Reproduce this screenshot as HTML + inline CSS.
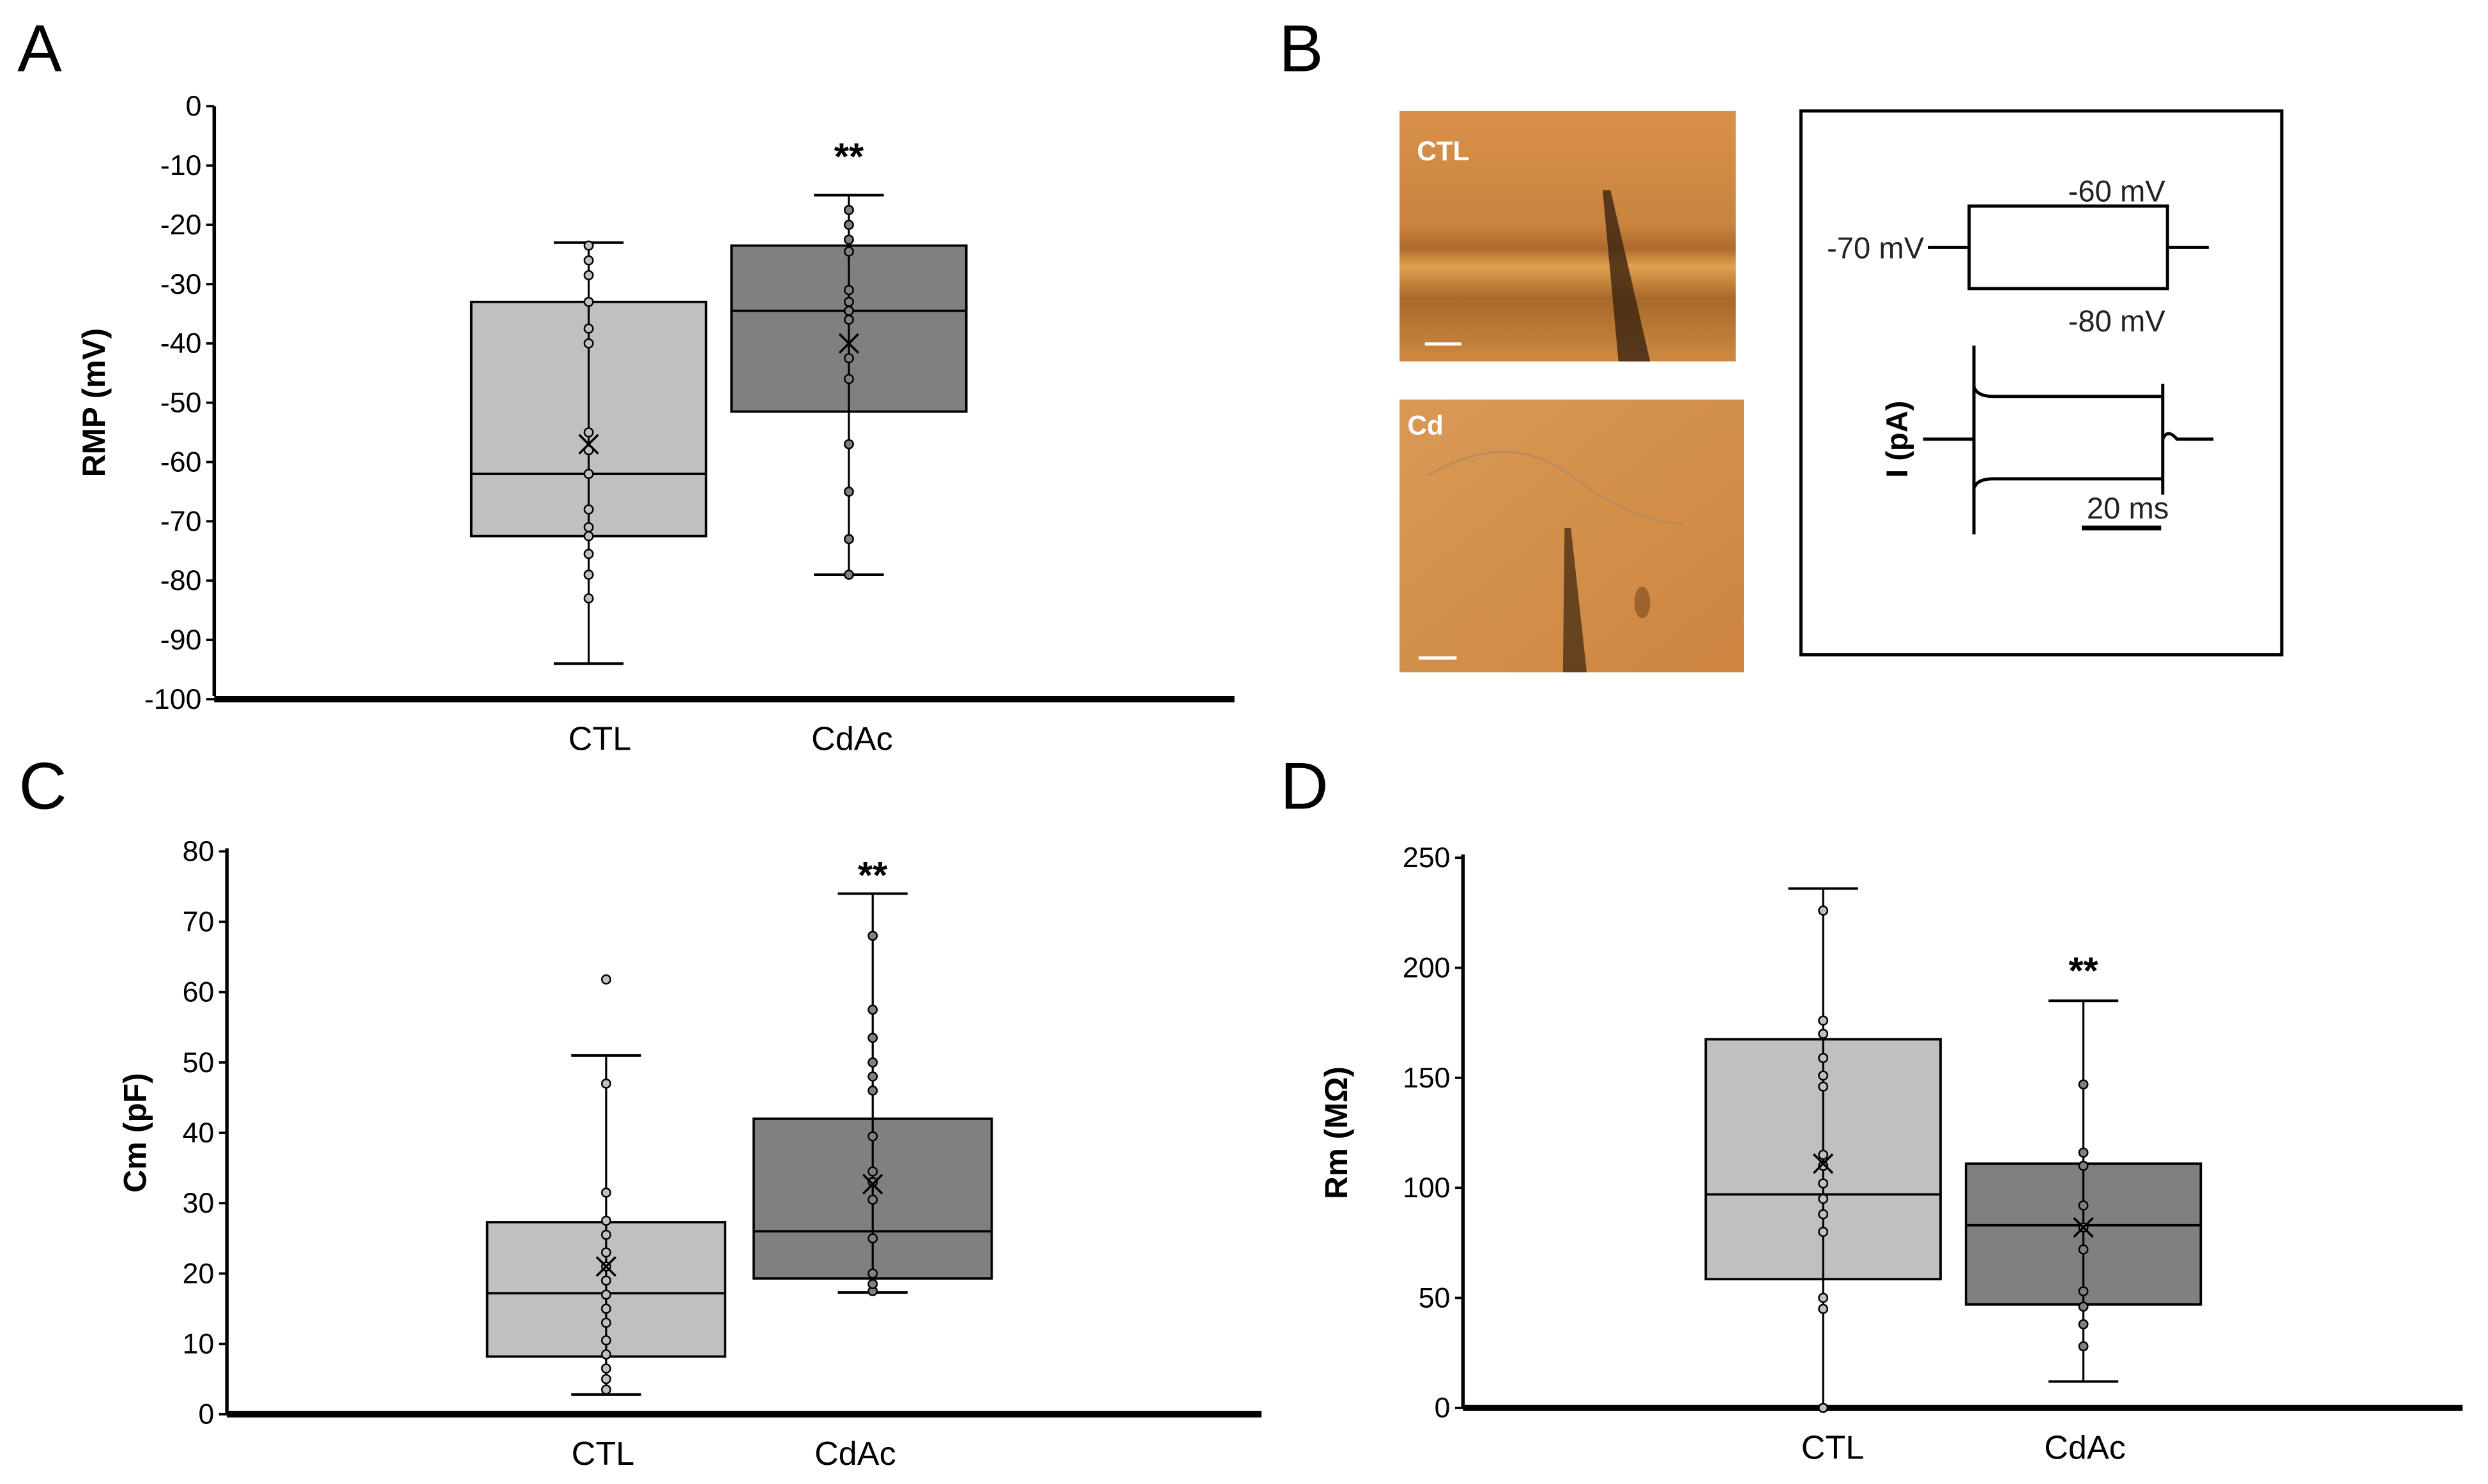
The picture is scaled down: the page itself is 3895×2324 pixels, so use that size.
<!DOCTYPE html>
<html><head><meta charset="utf-8"><style>
html,body{margin:0;padding:0;background:#fff;}
svg{display:block;font-family:"Liberation Sans",sans-serif;}
</style></head><body>
<svg id="fig" width="3895" height="2324" viewBox="0 0 1568 936" preserveAspectRatio="none">
<defs>
<linearGradient id="gctl" x1="0" y1="0" x2="0" y2="1">
<stop offset="0" stop-color="#d9914a"/><stop offset="0.45" stop-color="#c9843f"/><stop offset="0.55" stop-color="#b06a2c"/><stop offset="0.62" stop-color="#e0a050"/><stop offset="0.75" stop-color="#a8682a"/><stop offset="1" stop-color="#cf8a42"/>
</linearGradient>
<linearGradient id="gcd" x1="0" y1="0" x2="1" y2="1">
<stop offset="0" stop-color="#d99a55"/><stop offset="1" stop-color="#cd8540"/>
</linearGradient>
</defs>
<g id="layer"></g>
</svg>
<script>
// ---- Panel A data (RMP, mV)
const catsA = ["CTL","CdAc"];
const ticksA = [0,-10,-20,-30,-40,-50,-60,-70,-80,-90,-100];
const boxA_q1 = [-72.5,-51.5];
const boxA_q3 = [-33,-23.5];
const boxA_med = [-62,-34.5];
const boxA_min = [-94,-79];
const boxA_max = [-23,-15];
const boxA_mean = [-57,-40];
const ptsA_ctl = [-23.5,-26,-28.5,-33,-37.5,-40,-55,-58,-62,-68,-71,-72.5,-75.5,-79,-83];
const ptsA_cd = [-17.5,-20,-22.5,-24.5,-31,-33,-34.5,-36,-42.5,-46,-57,-65,-73,-79];
const starA = -8;
// ---- Panel C data (Cm, pF)
const ticksC = [0,10,20,30,40,50,60,70,80];
const boxC_q1 = [8.2,19.3];
const boxC_q3 = [27.3,42];
const boxC_med = [17.2,26];
const boxC_min = [2.8,17.3];
const boxC_max = [51,74];
const boxC_mean = [21,32.7];
const ptsC_ctl = [3.5,5,6.5,8.5,10.5,13,15,17,19,21,23,25.5,27.5,31.5,47,61.8];
const ptsC_cd = [17.5,18.5,20,25,30.5,33,34.5,39.5,46,48,50,53.5,57.5,68];
const starC = 77;
// ---- Panel D data (Rm, MOhm)
const ticksD = [0,50,100,150,200,250];
const boxD_q1 = [58.5,47];
const boxD_q3 = [167.5,111];
const boxD_med = [97,83];
const boxD_min = [0,12];
const boxD_max = [236,185];
const boxD_mean = [111,82];
const ptsD_ctl = [0,45,50,80,88,95,102,110,115,146,151,159,170,176,226];
const ptsD_cd = [28,38,46,53,72,82,92,110,116,147];
const starD = 200;

const NS="http://www.w3.org/2000/svg";
const L=document.getElementById('layer');
function mk(tag,attrs,parent){const e=document.createElementNS(NS,tag);for(const k in attrs)e.setAttribute(k,attrs[k]);(parent||L).appendChild(e);return e;}
function txt(s,attrs,parent){const e=mk('text',attrs,parent);e.textContent=s;return e;}

function panel(cfg){
  const g=mk('g',{});
  
  
  const y=v=>cfg.y0+(v-cfg.vmin)/(cfg.vmax-cfg.vmin)*(cfg.y1-cfg.y0);
  const ax=mk('line',{x1:cfg.ax,y1:cfg.y1-2,x2:cfg.ax,y2:cfg.y0,stroke:'#000','stroke-width':2.2},g);
  
  
  const xa=mk('line',{x1:cfg.ax,y1:cfg.xaxisY,x2:cfg.axEnd,y2:cfg.xaxisY,stroke:'#000','stroke-width':4},g);
  
  
  cfg.ticks.forEach(t=>{
    const yy=y(t);
    mk('line',{x1:cfg.ax-5,y1:yy,x2:cfg.ax,y2:yy,stroke:'#000','stroke-width':1.5},g);
    const tl=txt(String(t),{x:cfg.ax-8,y:yy+6,'text-anchor':'end','font-size':18},g);
    
    
  });
  const yl=txt(cfg.ylabel,{x:0,y:0,'font-size':20,'font-weight':'bold','text-anchor':'middle',transform:`translate(${cfg.ylx},${(cfg.y0+cfg.y1)/2}) rotate(-90)`},g);
  
  
  const fills=['#c0c0c0','#808080'];
  const pts=[cfg.p0,cfg.p1];
  for(let i=0;i<2;i++){
    const cx=cfg.cx[i],hw=cfg.hw;
    const wl=mk('line',{x1:cx,y1:y(cfg.min[i]),x2:cx,y2:y(cfg.max[i]),stroke:'#000','stroke-width':1.3},g);
    
    
    mk('line',{x1:cx-22,y1:y(cfg.min[i]),x2:cx+22,y2:y(cfg.min[i]),stroke:'#000','stroke-width':1.6},g);
    mk('line',{x1:cx-22,y1:y(cfg.max[i]),x2:cx+22,y2:y(cfg.max[i]),stroke:'#000','stroke-width':1.6},g);
    const b=mk('rect',{x:cx-hw,y:y(cfg.q3[i]),width:2*hw,height:y(cfg.q1[i])-y(cfg.q3[i]),fill:fills[i],stroke:'#000','stroke-width':1.5},g);
    
    
    mk('line',{x1:cx,y1:y(cfg.q3[i]),x2:cx,y2:y(cfg.q1[i]),stroke:'#000','stroke-width':1.3},g);
    mk('line',{x1:cx-hw,y1:y(cfg.med[i]),x2:cx+hw,y2:y(cfg.med[i]),stroke:'#000','stroke-width':1.5},g);
    pts[i].forEach(v=>{
      const c=mk('circle',{cx:cx,cy:y(v),r:2.7,fill:fills[i],stroke:'#000','stroke-width':1},g);
      
      
    });
    const my=y(cfg.mean[i]);
    mk('path',{d:`M${cx-6} ${my-6}L${cx+6} ${my+6}M${cx-6} ${my+6}L${cx+6} ${my-6}`,stroke:'#000','stroke-width':1.4,fill:'none'},g);
    const xl=txt(catsA[i],{x:cx+cfg.lblOff[i],y:cfg.xaxisY+32,'text-anchor':'middle','font-size':21},g);
    
    
  }
  const st=txt('**',{x:cfg.cx[cfg.starIdx],y:y(cfg.star)+10,'text-anchor':'middle','font-size':24,'font-weight':'bold'},g);
  
  
}

panel({name:'panel-a-rmp',ax:135,axEnd:778,y0:67,y1:441,vmin:0,vmax:-100,xaxisY:441,ticks:ticksA,ylabel:'RMP (mV)',ylx:66,
  cx:[371,535],hw:74,q1:boxA_q1,q3:boxA_q3,med:boxA_med,min:boxA_min,max:boxA_max,mean:boxA_mean,p0:ptsA_ctl,p1:ptsA_cd,star:starA,starIdx:1,lblOff:[7,2]});
panel({name:'panel-c-cm',ax:143,axEnd:795,y0:892,y1:537,vmin:0,vmax:80,xaxisY:892,ticks:ticksC,ylabel:'Cm (pF)',ylx:92,
  cx:[382,550],hw:75,q1:boxC_q1,q3:boxC_q3,med:boxC_med,min:boxC_min,max:boxC_max,mean:boxC_mean,p0:ptsC_ctl,p1:ptsC_cd,star:starC,starIdx:1,lblOff:[-2,-11]});
panel({name:'panel-d-rm',ax:922,axEnd:1552,y0:888,y1:541,vmin:0,vmax:250,xaxisY:888,ticks:ticksD,ylabel:'Rm (MΩ)',ylx:849,
  cx:[1149,1313],hw:74,q1:boxD_q1,q3:boxD_q3,med:boxD_med,min:boxD_min,max:boxD_max,mean:boxD_mean,p0:ptsD_ctl,p1:ptsD_cd,star:starD,starIdx:1,lblOff:[6,1]});

// panel letters
[['A',25,45],['B',820,45],['C',27,510],['D',822,510]].forEach(a=>{
  const t=txt(a[0],{x:a[1],y:a[2],'text-anchor':'middle','font-size':42},L);
  
  
});

// panel B
const gb=mk('g',{});


const im1=mk('rect',{x:882,y:70,width:212,height:158,fill:'url(#gctl)'},gb);


mk('path',{d:'M1010 120 L1015 120 L1040 228 L1020 228 Z',fill:'#3a2410',opacity:0.8},gb);
mk('line',{x1:898,y1:217,x2:921,y2:217,stroke:'#fff','stroke-width':2},gb);
txt('CTL',{x:893,y:101,fill:'#fff','font-size':17,'font-weight':'bold'},gb);
const im2=mk('rect',{x:882,y:252,width:217,height:172,fill:'url(#gcd)'},gb);


mk('path',{d:'M986 333 L990 333 L1000 424 L985 424 Z',fill:'#3a2410',opacity:0.7},gb);
mk('path',{d:'M900 300 Q950 270 990 300 T1060 330',stroke:'#b58a60',fill:'none','stroke-width':1},gb);
mk('ellipse',{cx:1035,cy:380,rx:5,ry:10,fill:'#7a4a20',opacity:0.6},gb);
mk('line',{x1:894,y1:415,x2:918,y2:415,stroke:'#fff','stroke-width':2},gb);
txt('Cd',{x:887,y:274,fill:'#fff','font-size':17,'font-weight':'bold'},gb);
const fr=mk('rect',{x:1135,y:70,width:303,height:343,fill:'#fff',stroke:'#000','stroke-width':2},gb);


mk('path',{d:'M1215 156 H1241 M1366 156 H1392',stroke:'#000','stroke-width':2},gb);
mk('rect',{x:1241,y:130,width:125,height:52,fill:'none',stroke:'#000','stroke-width':2},gb);
txt('-60 mV',{x:1334,y:127,'text-anchor':'middle','font-size':19,fill:'#222'},gb);
txt('-70 mV',{x:1182,y:163,'text-anchor':'middle','font-size':19,fill:'#222'},gb);
txt('-80 mV',{x:1334,y:209,'text-anchor':'middle','font-size':19,fill:'#222'},gb);
mk('path',{d:'M1212 277 H1244 M1244 218 V337 M1244 244 Q1246 250 1256 250 H1363 M1244 308 Q1246 302 1256 302 H1363 M1363 242 V312 M1363 277 Q1366 270 1372 277 H1395',stroke:'#000','stroke-width':2,fill:'none'},gb);
txt('I (pA)',{x:0,y:0,'text-anchor':'middle','font-size':19,'font-weight':'bold',transform:'translate(1202,277) rotate(-90)'},gb);
txt('20 ms',{x:1341,y:327,'text-anchor':'middle','font-size':19,fill:'#222'},gb);
mk('line',{x1:1312,y1:333,x2:1362,y2:333,stroke:'#000','stroke-width':3},gb);
</script>
</body></html>
